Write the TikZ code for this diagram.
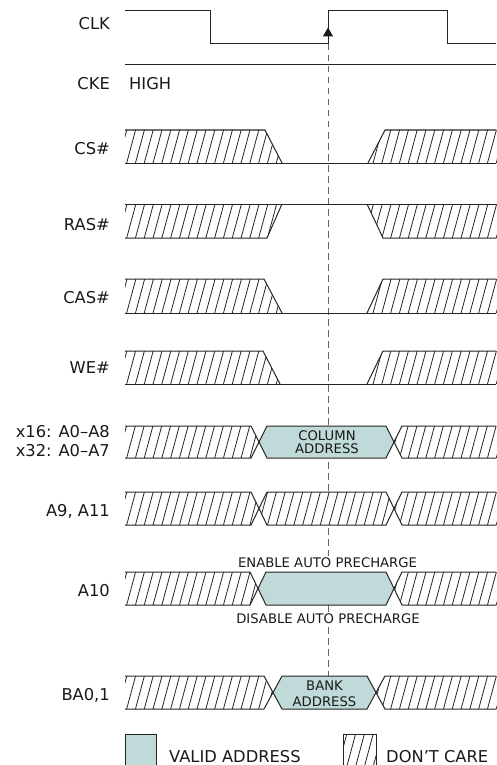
\documentclass[tikz,border=0pt]{standalone}
\usepackage{fontspec}
\setmainfont{DejaVu Sans}
\usetikzlibrary{arrows.meta}
\definecolor{validc}{RGB}{191,218,216}
\newcommand\lblfont{\fontsize{16.3}{18}\selectfont}
\newcommand\mysmall{\fontsize{13.2}{14}\selectfont}
\newcommand\hatchin[3]{%
  \begin{scope}
    \clip #1;
    \fill[white] (100,#3) rectangle (510,#2);
    \foreach \hx in {100,108.8,...,520} {\draw[hatchln] (\hx,#2+1) -- ({\hx+0.27*(#2-#3)+0.27*2},#3-1);}
  \end{scope}}
\newcommand\midvalid{\fill[validc] (\busCa,\busM)--(\busC,\busT)--(\busD,\busT)--(\busCb,\busM)--(\busD,\busB)--(\busC,\busB)--cycle;}
\newcommand\midhatch{\hatchin{(\busCa,\busM)--(\busC,\busT)--(\busD,\busT)--(\busCb,\busM)--(\busD,\busB)--(\busC,\busB)--cycle}{\busB}{\busT}}
\newcommand\busrow[7]{%
  \def\busT{#1}\def\busB{#2}\def\busA{#3}\def\busC{#4}\def\busD{#5}\def\busE{#6}%
  \pgfmathsetmacro\busM{(#1+#2)/2}%
  \pgfmathsetmacro\busCa{(#3+#4)/2}%
  \pgfmathsetmacro\busCb{(#5+#6)/2}%
  \hatchin{(125,#1)--(#3,#1)--(\busCa,\busM)--(#3,#2)--(125,#2)--cycle}{#2}{#1}%
  \hatchin{(\busCb,\busM)--(#6,#1)--(505,#1)--(505,#2)--(#6,#2)--cycle}{#2}{#1}%
  #7%
  \draw[sig] (125,#1)--(#3,#1)--(#4,#2)--(#5,#2)--(#6,#1)--(496,#1);
  \draw[sig] (125,#2)--(#3,#2)--(#4,#1)--(#5,#1)--(#6,#2)--(496,#2);
}
\begin{document}
\begin{tikzpicture}[x=1pt,y=-1pt,
  sig/.style={line width=1pt, draw=black!85, line join=miter},
  hatchln/.style={line width=0.8pt, black!85},
  lbl/.style={anchor=base east, font=\lblfont, inner sep=0pt, text depth=0pt, text=black!90},
  leg/.style={anchor=base west, font=\lblfont, inner sep=0pt, text depth=0pt, text=black!90},
  small/.style={anchor=base, font=\mysmall, inner sep=1.5pt, text=black!90},
  guide/.style={dash pattern=on 6.5pt off 4.5pt, line width=1pt, draw=black!60}]
\useasboundingbox (0,0) rectangle (496,765);
\fill[white] (0,0) rectangle (496,765);

% guide line
\coordinate (edge) at (328,44);
\coordinate (gend) at (328,676);
\draw[guide] (edge) -- (gend);

% CLK
\draw[sig] (125,11)--(210,11)--(210,44)--(328,44)--(328,11)--(447,11)--(447,44)--(496,44);
\coordinate (tipb) at (328,37);
\coordinate (tip) at (328,27.5);
\draw[black!90, line width=1pt, -{Triangle[length=9pt,width=10pt]}] (tipb) -- (tip);
\node[lbl] (clk) at (110,30) {CLK};

% CKE
\draw[sig] (125,65)--(496,65);
\node[lbl] (cke) at (110,89.3) {CKE};
\node[leg] (high) at (129,89.3) {HIGH};

% CS#
\hatchin{(125,130)--(265,130)--(282,163)--(125,163)--cycle}{163}{130}
\hatchin{(368,163)--(385,130)--(505,130)--(505,163)--cycle}{163}{130}
\draw[sig] (125,130)--(265,130)--(282,163);
\draw[sig] (125,163)--(496,163);
\draw[sig] (368,163)--(385,130)--(496,130);
\node[lbl] (cs) at (110,154.3) {CS\#};

% RAS#
\hatchin{(125,204)--(282,204)--(267,238)--(125,238)--cycle}{238}{204}
\hatchin{(367,204)--(383,238)--(505,238)--(505,204)--cycle}{238}{204}
\draw[sig] (125,204)--(496,204);
\draw[sig] (125,238)--(267,238)--(282,204);
\draw[sig] (367,204)--(383,238)--(496,238);
\node[lbl] (ras) at (110,230) {RAS\#};

% CAS#
\hatchin{(125,279)--(264,279)--(282,313)--(125,313)--cycle}{313}{279}
\hatchin{(367,313)--(383,279)--(505,279)--(505,313)--cycle}{313}{279}
\draw[sig] (125,279)--(264,279)--(282,313);
\draw[sig] (125,313)--(496,313);
\draw[sig] (367,313)--(383,279)--(496,279);
\node[lbl] (cas) at (110,303.5) {CAS\#};

% WE#
\hatchin{(125,351)--(263,351)--(280,384)--(125,384)--cycle}{384}{351}
\hatchin{(367,384)--(383,351)--(505,351)--(505,384)--cycle}{384}{351}
\draw[sig] (125,351)--(263,351)--(280,384);
\draw[sig] (125,384)--(496,384);
\draw[sig] (367,384)--(383,351)--(496,351);
\node[lbl] (we) at (110,373.5) {WE\#};

% x16 / x32 address
\busrow{426}{458}{251}{267}{386}{402}{\midvalid}
\node[lbl] (x16) at (110,437.5) {x16: A0–A8};
\node[lbl] (x32) at (110,456.5) {x32: A0–A7};
\node[small] (col1) at (327,440) {COLUMN};
\node[small] (col2) at (327,453.5) {ADDRESS};

% A9, A11
\busrow{492}{525}{251}{267}{386}{402}{\midhatch}
\node[lbl] (a9) at (110,516.5) {A9, A11};

% A10
\busrow{572}{605}{250}{266}{386}{402}{\midvalid}
\node[lbl] (a10) at (110,596.5) {A10};
\node[small, fill=white] (en) at (327.5,567.3) {ENABLE AUTO PRECHARGE};
\node[small, fill=white] (dis) at (328,623.3) {DISABLE AUTO PRECHARGE};

% BA0,1
\busrow{676}{709}{264}{282}{367}{385}{\midvalid}
\node[lbl] (ba) at (110,700.5) {BA0,1};
\node[small] (bk1) at (324.5,690) {BANK};
\node[small] (bk2) at (324.5,706.5) {ADDRESS};

% legend
\filldraw[fill=validc, draw=black!85, line width=1pt] (125,734) rectangle (156,772);
\node[leg] (lv) at (169,762) {VALID ADDRESS};
\hatchin{(343,734) rectangle (376,772)}{767}{734}
\draw[sig] (343,734) rectangle (376,772);
\node[leg] (ld) at (386,762) {DON’T CARE};
\end{tikzpicture}
\end{document}
